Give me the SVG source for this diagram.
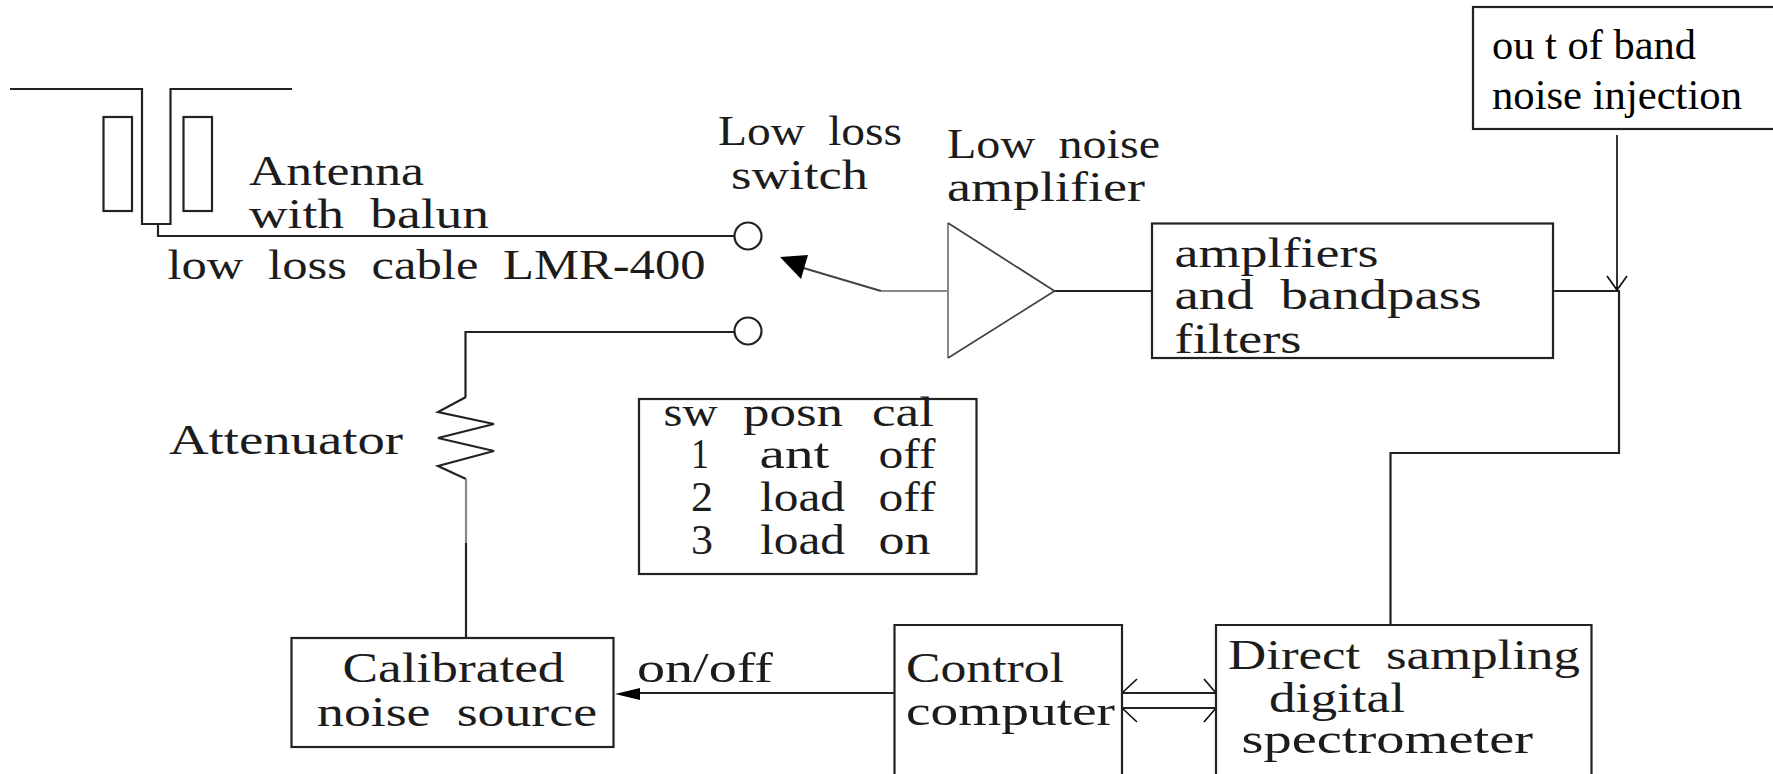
<svg xmlns="http://www.w3.org/2000/svg" width="1773" height="774" viewBox="0 0 1773 774">
<style>
.l{fill:none;stroke:#222;stroke-width:2.2}
.g{fill:none;stroke:#888;stroke-width:2.2}
.d{fill:none;stroke:#444;stroke-width:2}
.b{fill:#fff;stroke:#222;stroke-width:2.2}
.t{fill:none;stroke:#111;stroke-width:1.7}
text{fill:#1c1c1c}
.c{font-family:"Liberation Serif",serif;font-size:42px;word-spacing:10px}
.r{font-family:"Liberation Serif",serif;font-size:42px;fill:#000}
</style>
<rect width="1773" height="774" fill="#fff"/>
<g id="connectors">
<path class="l" d="M158 224V236H735"/>
<path class="l" d="M735 332H465.500V397"/>
<path class="l" d="M466 397L438 412L494 424L438 438L494 451L438 466L466 479"/>
<path class="g" d="M466 479V543"/>
<path class="l" d="M466 543V638"/>
<path class="g" d="M948 291H881"/>
<path class="d" d="M881 291L800 267"/>
<path d="M780 257L808 255L801 279Z" fill="#000"/>
<path class="l" d="M1054 291H1152"/>
<path class="l" d="M1553 291H1620"/>
<path class="t" d="M1617 135V290M1607 276L1617 290L1627 276"/>
<path class="l" d="M1619 291V453H1390.500V625"/>
<path class="l" d="M894 693H640"/>
<path d="M615 694L640 688V700Z" fill="#000"/>
<path class="l" d="M1122 693H1216M1122 708H1216"/>
<path class="t" d="M1137 679L1122 693M1204 679L1216 693M1137 722L1122 708M1204 722L1216 708"/>
</g>
<g id="antenna">
<path class="l" d="M10 89H142V224H170.500V89H292"/>
<rect class="l" x="103.500" y="117" width="28.500" height="94"/>
<rect class="l" x="183.500" y="117" width="28.500" height="94"/>
<text class="c" x="249" y="185" textLength="175" lengthAdjust="spacingAndGlyphs">Antenna</text>
<text class="c" x="249" y="228" textLength="240" lengthAdjust="spacingAndGlyphs">with balun</text>
</g>
<g id="cable"><text class="c" x="167.500" y="279" textLength="538" lengthAdjust="spacingAndGlyphs">low loss cable LMR-400</text></g>
<g id="switch">
<circle class="b" cx="748" cy="236" r="13.500"/>
<circle class="b" cx="748" cy="331" r="13.500"/>
<text class="c" x="718" y="145" textLength="184" lengthAdjust="spacingAndGlyphs">Low loss</text>
<text class="c" x="731" y="189" textLength="137" lengthAdjust="spacingAndGlyphs">switch</text>
</g>
<g id="lna">
<path d="M948 223V358" fill="none" stroke="#888" stroke-width="2"/>
<path d="M948 223L1054.500 291L948 358" fill="none" stroke="#444" stroke-width="1.800"/>
<text class="c" x="947" y="158" textLength="213" lengthAdjust="spacingAndGlyphs">Low noise</text>
<text class="c" x="947" y="201" textLength="198" lengthAdjust="spacingAndGlyphs">amplifier</text>
</g>
<g id="filters">
<rect class="b" x="1152" y="223.500" width="401" height="134.500"/>
<text class="c" x="1174.500" y="267" textLength="204" lengthAdjust="spacingAndGlyphs">amplfiers</text>
<text class="c" x="1174.500" y="309" textLength="307" lengthAdjust="spacingAndGlyphs">and bandpass</text>
<text class="c" x="1174.500" y="353" textLength="127" lengthAdjust="spacingAndGlyphs">filters</text>
</g>
<g id="injection">
<rect class="b" x="1473" y="7" width="302" height="122" stroke-width="1.500"/>
<text class="r" x="1492" y="59" textLength="204" lengthAdjust="spacingAndGlyphs">ou t of band</text>
<text class="r" x="1492" y="109" textLength="250" lengthAdjust="spacingAndGlyphs">noise injection</text>
</g>
<g id="attenuator"><text class="c" x="169" y="454" textLength="234" lengthAdjust="spacingAndGlyphs">Attenuator</text></g>
<g id="table">
<rect class="b" x="639" y="399" width="337.500" height="175"/>
<text class="c" x="663.500" y="426" textLength="54" lengthAdjust="spacingAndGlyphs">sw</text>
<text class="c" x="743" y="426" textLength="100" lengthAdjust="spacingAndGlyphs">posn</text>
<text class="c" x="872" y="426" textLength="62" lengthAdjust="spacingAndGlyphs">cal</text>
<text class="c" x="691" y="468" textLength="18" lengthAdjust="spacingAndGlyphs">1</text>
<text class="c" x="759.500" y="468" textLength="70" lengthAdjust="spacingAndGlyphs">ant</text>
<text class="c" x="878.500" y="468" textLength="57" lengthAdjust="spacingAndGlyphs">off</text>
<text class="c" x="691" y="511" textLength="22" lengthAdjust="spacingAndGlyphs">2</text>
<text class="c" x="760" y="511" textLength="85" lengthAdjust="spacingAndGlyphs">load</text>
<text class="c" x="878.500" y="511" textLength="57" lengthAdjust="spacingAndGlyphs">off</text>
<text class="c" x="691" y="554" textLength="22" lengthAdjust="spacingAndGlyphs">3</text>
<text class="c" x="760" y="554" textLength="85" lengthAdjust="spacingAndGlyphs">load</text>
<text class="c" x="878.500" y="554" textLength="52" lengthAdjust="spacingAndGlyphs">on</text>
</g>
<g id="noise-source">
<rect class="b" x="291.500" y="638" width="322" height="109"/>
<text class="c" x="342.500" y="682" textLength="222" lengthAdjust="spacingAndGlyphs">Calibrated</text>
<text class="c" x="317" y="726" textLength="280" lengthAdjust="spacingAndGlyphs">noise source</text>
</g>
<g id="onoff"><text class="c" x="637" y="682" textLength="136" lengthAdjust="spacingAndGlyphs">on/off</text></g>
<g id="computer">
<path class="l" d="M894.500 776V625H1122V776"/>
<text class="c" x="906" y="682" textLength="158" lengthAdjust="spacingAndGlyphs">Control</text>
<text class="c" x="906" y="725" textLength="209" lengthAdjust="spacingAndGlyphs">computer</text>
</g>
<g id="spectrometer">
<path class="l" d="M1216 776V625H1591.500V776"/>
<text class="c" x="1228" y="669" textLength="352" lengthAdjust="spacingAndGlyphs">Direct sampling</text>
<text class="c" x="1269" y="712" textLength="136" lengthAdjust="spacingAndGlyphs">digital</text>
<text class="c" x="1241.500" y="753" textLength="291.500" lengthAdjust="spacingAndGlyphs">spectrometer</text>
</g>
</svg>
